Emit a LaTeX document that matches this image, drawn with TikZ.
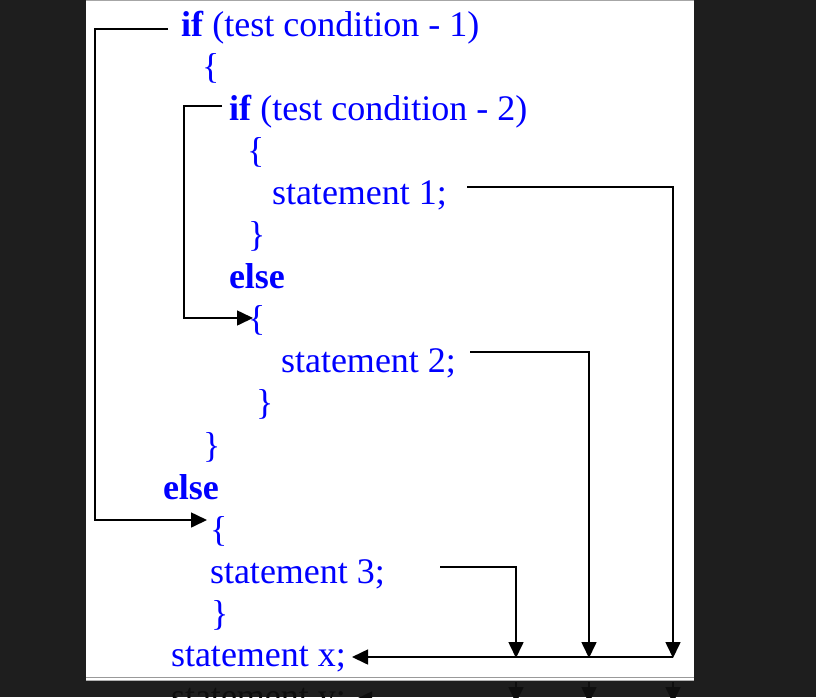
\documentclass[tikz,border=0pt]{standalone}
\usepackage{fontspec}
\setmainfont{Liberation Serif}
\usetikzlibrary{arrows.meta}
\definecolor{bgdark}{HTML}{1E1E1E}
\definecolor{codeblue}{HTML}{0000FF}
\definecolor{ghost}{HTML}{0E0E0E}
\tikzset{
  code/.style={anchor=base west, inner sep=0pt, outer sep=0pt, text=codeblue,
    font=\fontsize{36}{42}\selectfont},
  ghostcode/.style={code, text=ghost},
  flow/.style={line width=1.6pt, draw=black, line join=miter},
  flowarrow/.style={flow, -{Triangle[length=16pt,width=15pt]}},
  ghostarrow/.style={line width=1.6pt, draw=ghost, -{Triangle[length=16pt,width=15pt]}},
}
\begin{document}
\begin{tikzpicture}[x=1pt,y=-1pt]
\useasboundingbox (0,0) rectangle (816,697);
\clip (0,0) rectangle (816,697);
\fill[bgdark] (0,0) rectangle (816,697);
% page
\fill[white] (86,0) rectangle (694,680);
\draw[gray!70, line width=1pt] (86,0.5) -- (694,0.5);
\draw[gray!80, line width=1pt] (86,677) -- (694,677);
\draw[gray!60, line width=1pt] (86,680) -- (694,680);

% code lines
\node[code] (l0)  at (181,36)    {\textbf{if} (test condition - 1)};
\node[code] (l1)  at (202,78.1)  {\{};
\node[code] (l2)  at (229,120.2) {\textbf{if} (test condition - 2)};
\node[code] (l3)  at (247,162.3) {\{};
\node[code] (l4)  at (272,204.4) {statement 1;};
\node[code] (l5)  at (248,246.5) {\}};
\node[code] (l6)  at (229,288.6) {\textbf{else}};
\node[code] (l7)  at (248,330.7) {\{};
\node[code] (l8)  at (281,372.8) {statement 2;};
\node[code] (l9)  at (256,414.9) {\}};
\node[code] (l10) at (203,457)   {\}};
\node[code] (l11) at (163,499.1) {\textbf{else}};
\node[code] (l12) at (210,541.2) {\{};
\node[code] (l13) at (210,583.3) {statement 3;};
\node[code] (l14) at (211,625.4) {\}};
\node[code] (l15) at (171,666.5) {statement x;};

% corner coordinates
\coordinate (a0) at (168,29);
\coordinate (a1) at (95,29);
\coordinate (a2) at (95,520);
\coordinate (a3) at (207,520);
\coordinate (b0) at (222,106);
\coordinate (b1) at (184,106);
\coordinate (b2) at (184,318);
\coordinate (b3) at (253,318);
\coordinate (c0) at (467,187);
\coordinate (c1) at (673,187);
\coordinate (c2) at (673,658);
\coordinate (d0) at (470,352);
\coordinate (d1) at (589,352);
\coordinate (d2) at (589,658);
\coordinate (e0) at (440,567);
\coordinate (e1) at (516,567);
\coordinate (e2) at (516,658);
\coordinate (f0) at (673,657);
\coordinate (f1) at (352,657);

\draw[flowarrow] (a0) -- (a1) -- (a2) -- (a3);
\draw[flowarrow] (b0) -- (b1) -- (b2) -- (b3);
\draw[flowarrow] (c0) -- (c1) -- (c2);
\draw[flowarrow] (d0) -- (d1) -- (d2);
\draw[flowarrow] (e0) -- (e1) -- (e2);
\draw[flowarrow] (f0) -- (f1);

% faint continuation below the page
\node[ghostcode] (g0) at (171,708.6) {statement y;};
\coordinate (g1) at (400,699);
\coordinate (g2) at (356,699);
\draw[ghostarrow] (g1) -- (g2);
\coordinate (h1) at (516,682);
\coordinate (h2) at (516,703);
\coordinate (i1) at (589,682);
\coordinate (i2) at (589,703);
\coordinate (j1) at (673,682);
\coordinate (j2) at (673,703);
\draw[ghostarrow] (h1) -- (h2);
\draw[ghostarrow] (i1) -- (i2);
\draw[ghostarrow] (j1) -- (j2);
\end{tikzpicture}
\end{document}
